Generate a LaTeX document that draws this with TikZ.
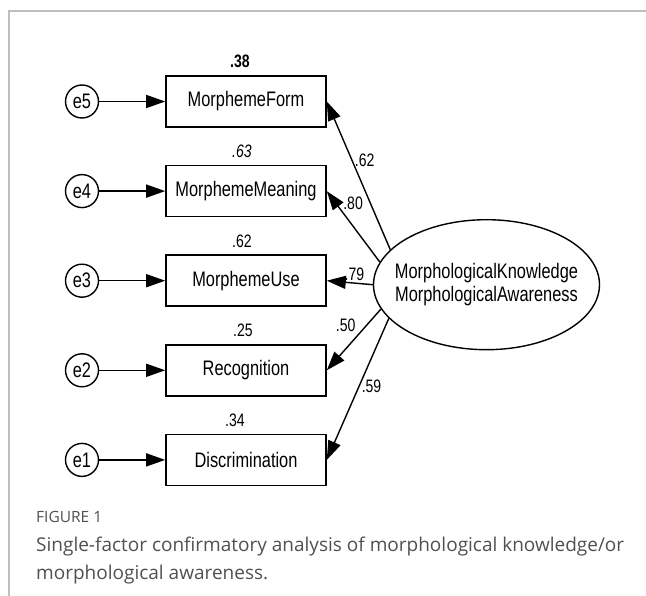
\documentclass[tikz,border=0pt]{standalone}
\usepackage{fontspec}
\setmainfont{Liberation Sans}
\usetikzlibrary{arrows.meta,positioning,shapes.geometric}
\newfontfamily\amosfont[FakeStretch=0.78]{Liberation Sans}
\newfontfamily\capfont{Open Sans}
\definecolor{framegray}{RGB}{190,190,190}
\definecolor{capgray}{RGB}{80,80,80}
\newcommand{\obsfont}{\amosfont\fontsize{21}{23}\selectfont}
\newcommand{\numfont}{\amosfont\fontsize{18}{20}\selectfont}
\newcommand{\figfont}{\capfont\fontsize{15.5}{17}\selectfont}
\newcommand{\captfont}{\capfont\fontsize{19}{28}\selectfont}

\begin{document}
\begin{tikzpicture}[x=1pt,y=1pt,node distance=37pt,>={Triangle[length=19pt,width=13pt]},
  obs/.style={draw,line width=1.6pt,minimum width=160pt,minimum height=51pt,inner sep=0pt,font=\obsfont},
  err/.style={draw,circle,line width=1.4pt,minimum size=33pt,inner sep=0pt,font=\obsfont},
  latent/.style={draw,ellipse,line width=1.4pt,minimum width=226pt,minimum height=130pt,
    inner xsep=-12pt,inner ysep=0pt,align=center,font=\obsfont},
  num/.style={font=\numfont,inner sep=2pt},
  loadarrow/.style={->,line width=1.4pt},
  errarrow/.style={->,line width=1.5pt}]
  \useasboundingbox (0,0) rectangle (646,-596);
  \draw[framegray,line width=1.3pt] (9,-596) -- (9,-11) -- (646,-11);
  % observed variables
  \node[obs,label={[num,label distance=5pt,xshift=-6pt,font=\numfont\bfseries]above:.38}] (form) at (246,-101.5) {MorphemeForm};
  \node[obs,below=of form,label={[num,label distance=5pt,xshift=-4pt,font=\numfont\itshape]above:.63}] (meaning) {MorphemeMeaning};
  \node[obs,below=of meaning,label={[num,label distance=5pt,xshift=-4pt]above:.62}] (use) {MorphemeUse};
  \node[obs,below=of use,label={[num,label distance=5pt,xshift=-3pt]above:.25}] (recog) {Recognition};
  \node[obs,below=of recog,label={[num,label distance=5pt,xshift=-11pt]above:.34}] (discr) {Discrimination};
  % error terms
  \node[err,left=66pt of form] (e5) {e5};
  \node[err,left=66pt of meaning] (e4) {e4};
  \node[err,left=66pt of use] (e3) {e3};
  \node[err,left=66pt of recog] (e2) {e2};
  \node[err,left=66pt of discr] (e1) {e1};
  % factor
  \node[latent,right=46pt of use,yshift=-4pt] (factor) {MorphologicalKnowledge\\MorphologicalAwareness};
  \draw[errarrow] (e5) -- (form);
  \draw[errarrow] (e4) -- (meaning);
  \draw[errarrow] (e3) -- (use);
  \draw[errarrow] (e2) -- (recog);
  \draw[errarrow] (e1) -- (discr);
  \draw[loadarrow] (factor.160) -- node[num,pos=0.6,right] {.62} (form.east);
  \draw[loadarrow] (factor.168) -- node[num,pos=0.72,above right,inner sep=1pt] {.80} (meaning.east);
  \draw[loadarrow] (factor.180) -- node[num,pos=0.4,above] {.79} (use.east);
  \draw[loadarrow] (factor.193) -- node[num,pos=0.42,above left] {.50} (recog.east);
  \draw[loadarrow] (factor.199) -- node[num,pos=0.48,right] {.59} (discr.east);
  % caption
  \node[anchor=base west,inner sep=0pt,font=\figfont,text=capgray] (fig) at (36,-522) {FIGURE 1};
  \node[anchor=north west,align=left,inner sep=0pt,font=\captfont,text=capgray] (cap) at (36,-537)
    {Single-factor confirmatory analysis of morphological knowledge/or\\morphological awareness.};
\end{tikzpicture}
\end{document}
